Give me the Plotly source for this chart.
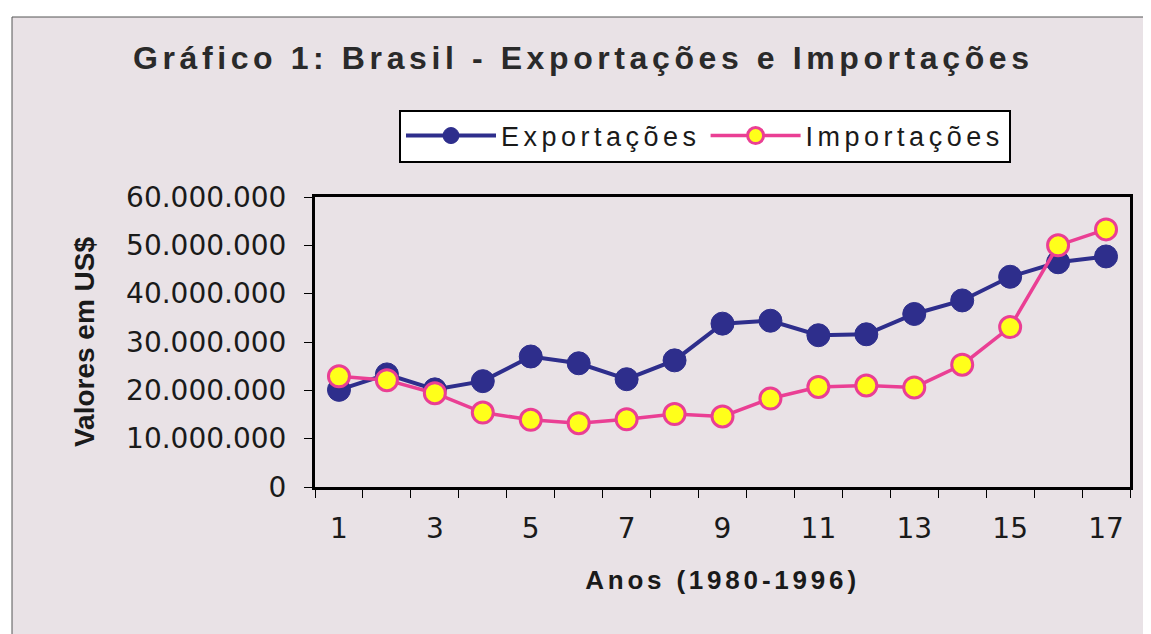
import plotly.graph_objects as go

# Anos 1 a 17 (1980-1996)
anos = list(range(1, 18))
exportacoes = [20100000, 23300000, 20200000, 21900000, 27000000, 25600000, 22300000,
               26200000, 33800000, 34400000, 31400000, 31600000, 35800000, 38600000,
               43500000, 46500000, 47700000]
importacoes = [22900000, 22100000, 19400000, 15400000, 13900000, 13200000, 14000000,
               15100000, 14600000, 18300000, 20700000, 21000000, 20600000, 25300000,
               33100000, 50000000, 53300000]
x_tick_vals = [1, 3, 5, 7, 9, 11, 13, 15, 17]
y_tick_vals = [0, 10000000, 20000000, 30000000, 40000000, 50000000, 60000000]

# a página tem 8px de margem no body
W, H = 1143, 626
L, R, T, B = 307, 21, 189, 147
PW, PH = W - L - R, H - T - B


def px_x(sx):
    return (sx - 8 - L) / PW


def px_y(sy):
    return 1 - (sy - 8 - T) / PH


def spaced(text, px):
    # espaçamento entre letras, como no original
    return f'<span style="letter-spacing:{px}px">{text}</span>'


fig = go.Figure()

fig.add_trace(go.Scatter(
    x=anos, y=exportacoes, mode='lines+markers',
    name=spaced('Exportações', 4.5),
    line=dict(color='#2e2e8c', width=4),
    marker=dict(size=23, color='#2e2e8c', line=dict(color='#2e2e8c', width=1)),
))
fig.add_trace(go.Scatter(
    x=anos, y=importacoes, mode='lines+markers',
    name=spaced('Importações', 4.5),
    line=dict(color='#ea3f94', width=3.5),
    marker=dict(size=21, color='#ffff1a', line=dict(color='#ea3f94', width=3)),
))

# fundo do gráfico com moldura fina
fig.add_shape(type='rect', xref='paper', yref='paper', layer='below',
              x0=px_x(12), x1=px_x(1160), y0=px_y(17), y1=px_y(640),
              fillcolor='#e9e2e6', line=dict(color='#555555', width=1))

fig.update_layout(
    width=W, height=H,
    margin=dict(l=L, r=R, t=T, b=B),
    paper_bgcolor='white',
    plot_bgcolor='white',
    separators=',.',
    font=dict(family='Liberation Sans, Arial, sans-serif', size=28, color='#1a1a1a'),
    title=dict(
        text='<b>' + spaced('Gráfico 1: Brasil - Exportações e Importações', 4.6) + '</b>',
        x=(133 - 8) / W, xref='container', xanchor='left',
        y=1 - 50 / H, yanchor='middle',
        font=dict(size=32, color='#2a2a2a'),
    ),
    legend=dict(
        orientation='h',
        x=px_x(705), xanchor='center',
        y=px_y(136), yanchor='middle',
        bgcolor='white', bordercolor='black', borderwidth=2,
        font=dict(size=27),
        itemwidth=90,
        itemsizing='trace',
    ),
    showlegend=True,
)

fig.update_xaxes(
    range=[0.5, 17.5],
    tickmode='array', tickvals=x_tick_vals,
    ticks='', ticklabelstandoff=14,
    minor=dict(ticks='outside', tick0=0.5, dtick=1, ticklen=8, tickcolor='black', tickwidth=1),
    showline=True, linecolor='black', linewidth=3, mirror=True,
    showgrid=False, zeroline=False,
    tickfont=dict(family='DejaVu Sans, sans-serif', size=28),
    title=dict(text='<b>' + spaced('Anos (1980-1996)', 3.8) + '</b>', font=dict(size=26), standoff=28),
)
fig.update_yaxes(
    range=[0, 60000000],
    tickmode='array', tickvals=y_tick_vals, tickformat=',d',
    ticks='outside', ticklen=8, tickcolor='black',
    ticklabelstandoff=12,
    showline=True, linecolor='black', linewidth=3, mirror=True,
    showgrid=False, zeroline=False,
    tickfont=dict(family='DejaVu Sans, sans-serif', size=28),
    title=dict(text='<b>Valores em US$</b>', font=dict(size=28), standoff=24),
)

fig.write_html('out.html')
